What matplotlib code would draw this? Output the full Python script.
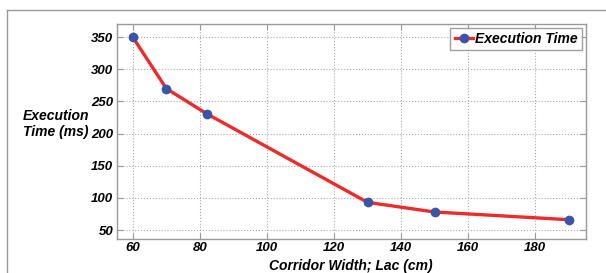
import matplotlib
matplotlib.use("Agg")
import matplotlib.pyplot as plt
from matplotlib.lines import Line2D

width_cm = [60, 70, 82, 130, 150, 190]
exec_time_ms = [350, 270, 231, 93, 78, 66]
xticks = [60, 80, 100, 120, 140, 160, 180]
yticks = [50, 100, 150, 200, 250, 300, 350]

plt.rcParams['font.family'] = ['Liberation Sans', 'DejaVu Sans']

W, H = 606, 273
fig = plt.figure(figsize=(W/100, H/100), dpi=100)
ax = fig.add_axes([116.7/W, 1 - 239/H, (585.6-116.7)/W, (239-24.3)/H])

ax.plot(width_cm, exec_time_ms, color='#ee2a2a', lw=2.4, marker='o',
        markersize=6, markerfacecolor='#3a55a8', markeredgecolor='#3a55a8',
        label='Execution Time', zorder=3)

ax.set_xlim(55.2, 195)
ax.set_ylim(36, 370)
ax.set_xticks(xticks)
ax.set_yticks(yticks)
ax.grid(True, linestyle=':', color='#aaaaaa', lw=0.8)
for s in ax.spines.values():
    s.set_color('#999999')
    s.set_linewidth(1.0)
ax.tick_params(direction='in', top=True, right=True, length=4, color='#999999',
               labelsize=9.5, pad=2.5)
for lab in ax.get_xticklabels() + ax.get_yticklabels():
    lab.set_fontweight('bold')
    lab.set_fontstyle('italic')

ax.set_xlabel('Corridor Width; Lac (cm)', fontsize=10, fontweight='bold',
              fontstyle='italic', labelpad=3)
fig.text(56/W, 1 - 124/H, 'Execution\nTime (ms)', fontsize=10, fontweight='bold',
         fontstyle='italic', ha='center', va='center', linespacing=1.25)

leg = ax.legend(loc='upper right', frameon=True, fancybox=False,
                borderpad=0.3, handlelength=1.3, handletextpad=0.2,
                borderaxespad=0.25, prop={'weight': 'bold', 'style': 'italic', 'size': 10})
leg.get_frame().set_edgecolor('#888888')
leg.get_frame().set_linewidth(1.0)

# outer frame (top and left lines)
fig.add_artist(Line2D([7/W, 1], [1 - 10.3/H, 1 - 10.3/H], color='#999999', lw=1.0,
                      transform=fig.transFigure))
fig.add_artist(Line2D([7/W, 7/W], [0, 1 - 10.3/H], color='#999999', lw=1.0,
                      transform=fig.transFigure))

fig.savefig('out.png', dpi=100)
